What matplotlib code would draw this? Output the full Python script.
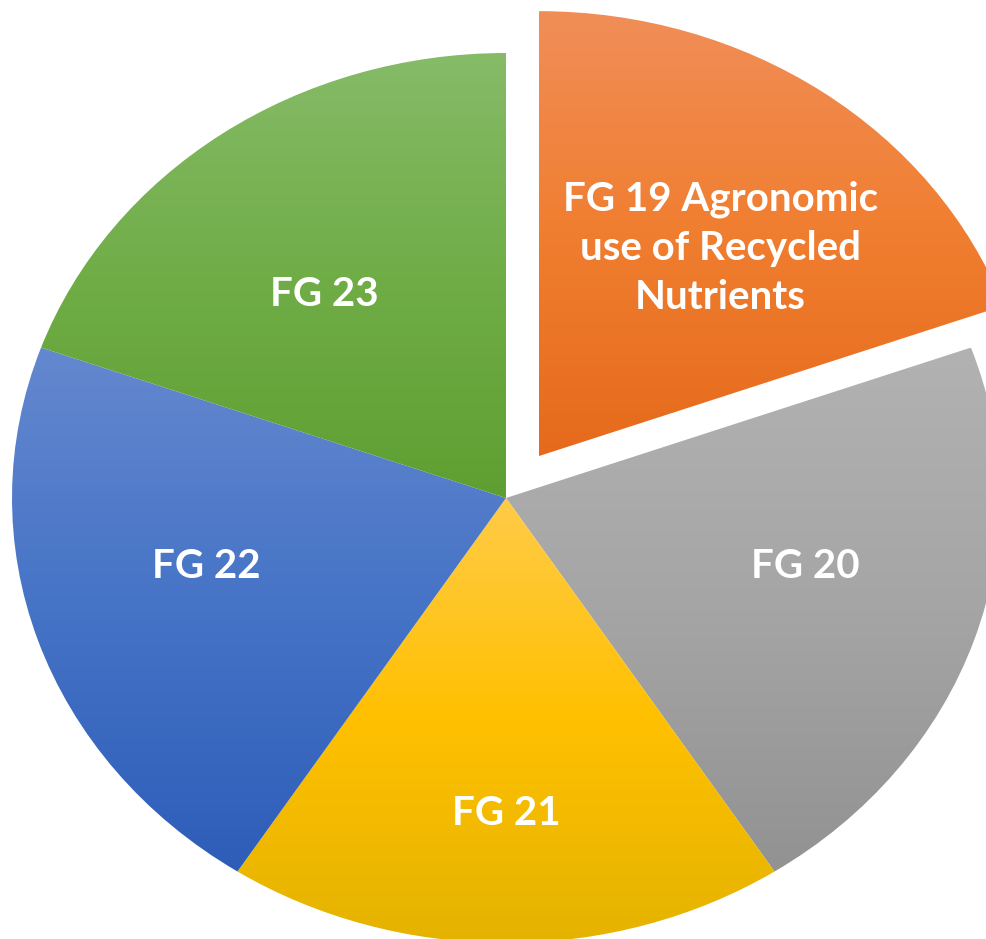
import numpy as np
import matplotlib.pyplot as plt
from matplotlib.colors import LinearSegmentedColormap

# Slice data
labels = ['FG 19 Agronomic\nuse of Recycled\nNutrients', 'FG 20', 'FG 21', 'FG 22', 'FG 23']
values = [32, 35, 30, 35, 32]
explode = [0.115, 0, 0, 0, 0]

# gradient colours per slice: top, middle, bottom
top_colors = ['#F18E58', '#B2B2B2', '#FFCB48', '#6488CF', '#86BB68']
mid_colors = ['#F07E30', '#A5A5A5', '#FFC000', '#4573C6', '#70AD47']
bottom_colors = ['#E66A1B', '#929292', '#E4B300', '#2E5DB9', '#5F9F31']

# label placement inside each wedge (fraction of radius, x and y)
label_rx = 0.64
label_ry = [0.57, 0.48, 0.71, 0.48, 0.56]

plt.rcParams['font.family'] = ['Lato', 'DejaVu Sans']

fig = plt.figure(figsize=(9.86, 9.39), dpi=100)
ax = fig.add_axes([0, 0, 1, 1])

wedges, _ = ax.pie(values, explode=explode, startangle=90, counterclock=False,
                   colors=['none'] * len(values), wedgeprops=dict(linewidth=0))

for i, w in enumerate(wedges):
    verts = w.get_path().vertices
    x0, x1 = verts[:, 0].min(), verts[:, 0].max()
    y0, y1 = verts[:, 1].min(), verts[:, 1].max()
    cmap = LinearSegmentedColormap.from_list(
        f'g{i}', [top_colors[i], mid_colors[i], bottom_colors[i]])
    grad = np.linspace(0, 1, 256)[:, None]
    im = ax.imshow(grad, cmap=cmap, extent=(x0, x1, y0, y1), origin='upper',
                   aspect='auto', interpolation='bilinear', zorder=1)
    im.set_clip_path(w)

    mid = np.deg2rad((w.theta1 + w.theta2) / 2)
    cx, cy = w.center
    ax.text(cx + label_rx * np.cos(mid), cy + label_ry[i] * np.sin(mid), labels[i],
            ha='center', va='center', color='white', fontsize=29, fontweight='bold',
            linespacing=1.4, zorder=3)

# pie is stretched horizontally in the original image
ax.set_aspect('auto')
ax.set_xlim(-506 / 494, (986 - 506) / 494)
ax.set_ylim((498 - 939) / 445, 498 / 445)
ax.axis('off')

fig.savefig('out.png', dpi=100, facecolor='white')
